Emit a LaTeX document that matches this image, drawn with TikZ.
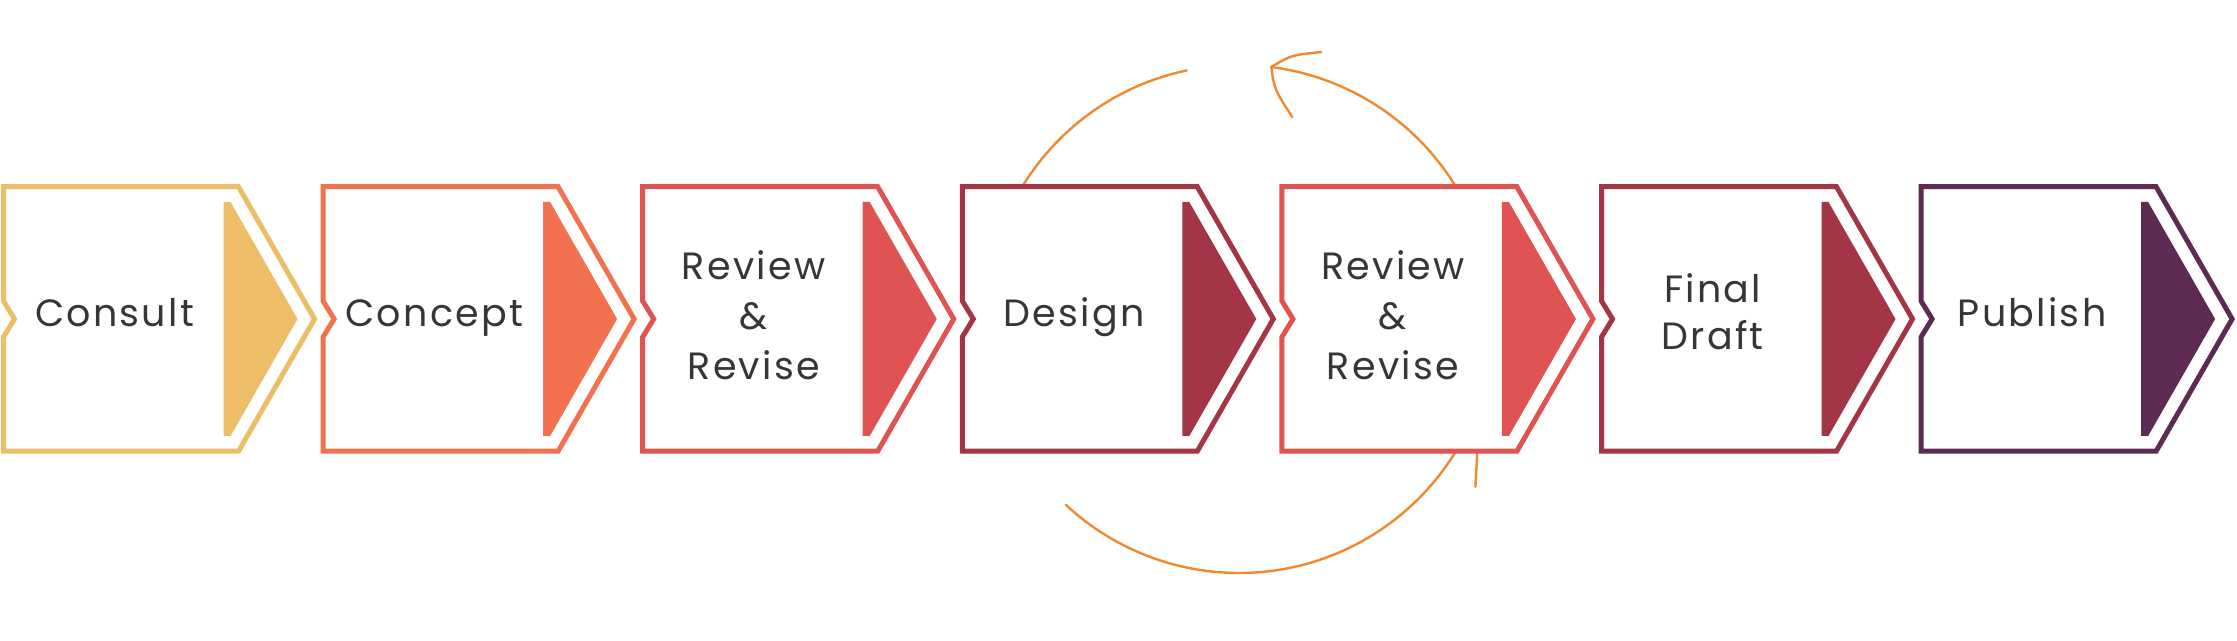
\documentclass[tikz,border=0pt]{standalone}
\usepackage{fontspec}
\setmainfont{Poppins}[LetterSpace=6]
\usetikzlibrary{calc}
\definecolor{cA}{HTML}{EDBD67}
\definecolor{cB}{HTML}{F2724F}
\definecolor{cC}{HTML}{E05353}
\definecolor{cD}{HTML}{A33546}
\definecolor{cE}{HTML}{5D2A51}
\definecolor{txt}{HTML}{363636}
\definecolor{loopc}{HTML}{F08A30}
\begin{document}
\begin{tikzpicture}[x=1pt,y=1pt,
  chev/.style={line width=5pt, fill=white, miter limit=10},
  lbl/.style={anchor=base, text=txt, font=\fontsize{38}{46}\selectfont, inner sep=0pt},
  loopline/.style={draw=loopc, line width=2.4pt, line cap=round}]
\useasboundingbox (0,0) rectangle (2237,640);
\fill[white] (0,0) rectangle (2237,640);
% review loop
\coordinate (C) at (1239,321);
\coordinate (tip) at ($(C)+(82.7:254)$);
\coordinate (tickA) at (1478,200);
\coordinate (tickB) at (1475.4,153.3);
\draw[loopline] ($(C)+(155:254)$) arc[start angle=155,end angle=101.9,radius=254];
\draw[loopline] (tip) arc[start angle=82.7,end angle=25,radius=254];
\draw[loopline] ($(C)+(227:254)$) arc[start angle=227,end angle=332,radius=254];
\draw[loopline] (tip) .. controls ($(tip)+(20,12)$) .. ($(tip)+(50,15)$);
\draw[loopline] (tip) .. controls ($(tip)+(3,-22)$) .. ($(tip)+(21,-50)$);
\draw[loopline] (tickA) -- (tickB);
% chevrons
\foreach \i/\c in {0/cA,1/cB,2/cC,3/cD,4/cC,5/cD,6/cE}{
  \pgfmathsetmacro\L{3.5+319.6*\i}
  \draw[chev, draw=\c] (\L,453.25) -- (\L+235,453.25) -- (\L+311,321) -- (\L+235,188.75) -- (\L,188.75) -- (\L,303) -- (\L+11,321) -- (\L,339) -- cycle;
  \fill[\c] (\L+220,204) -- (\L+220,438) -- (\L+227,438) -- (\L+294,321) -- (\L+227,204) -- cycle;
}
% labels
\node[lbl] (t1) at (114.5,313.3) {Consult};
\node[lbl] (t2) at (434.1,313.3) {Concept};
\node[lbl] (t3a) at (753.7,360) {Review};
\node[lbl] (t3b) at (753.7,310) {\&};
\node[lbl] (t3c) at (753.7,260) {Revise};
\node[lbl] (t4) at (1074.3,313.3) {Design};
\node[lbl] (t5a) at (1392.9,360) {Review};
\node[lbl] (t5b) at (1392.9,310) {\&};
\node[lbl] (t5c) at (1392.9,260) {Revise};
\node[lbl] (t6a) at (1712.5,337.3) {Final};
\node[lbl] (t6b) at (1712.5,290) {Draft};
\node[lbl] (t7) at (2032.1,313.3) {Publish};
\end{tikzpicture}
\end{document}
